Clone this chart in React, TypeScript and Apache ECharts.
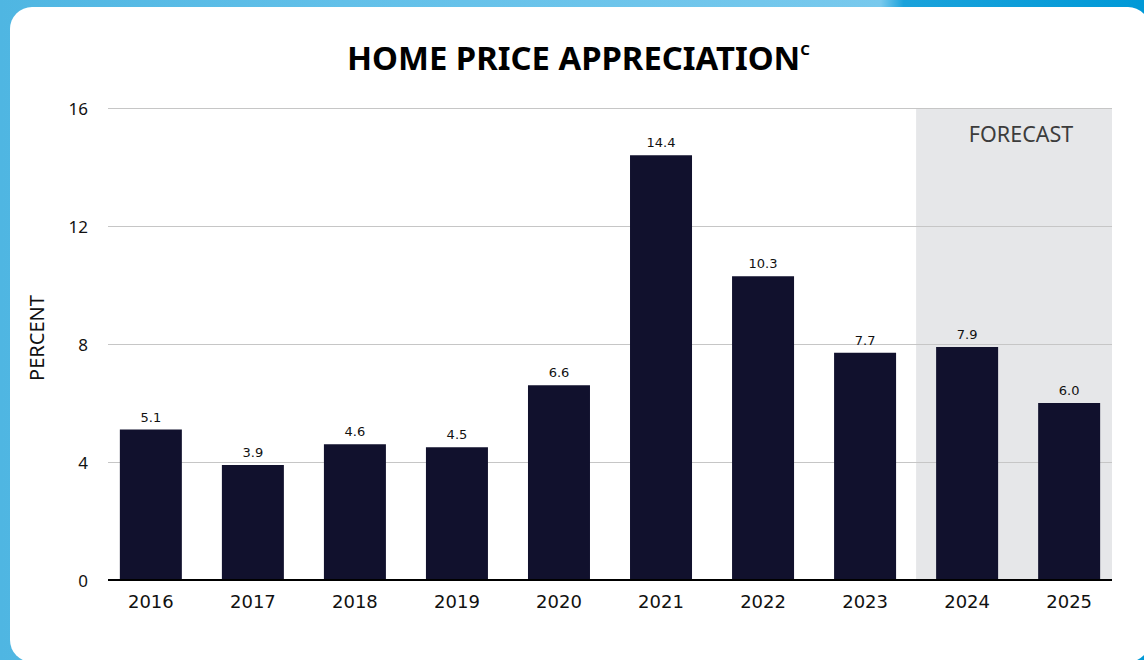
import React, { useEffect, useRef } from "react";
import * as echarts from "echarts";

const YEARS = ["2016", "2017", "2018", "2019", "2020", "2021", "2022", "2023", "2024", "2025"];
const APPRECIATION = [5.1, 3.9, 4.6, 4.5, 6.6, 14.4, 10.3, 7.7, 7.9, 6.0];
const Y_TICKS = [0, 4, 8, 12, 16];
const FORECAST_FIRST_INDEX = 8; // 2024 onward is forecast
const X_MIN = -0.42;
const X_MAX = 9.42;
const Y_MAX = 16;

export default function App() {
  const ref = useRef<HTMLDivElement>(null);

  useEffect(() => {
    if (!ref.current) return;
    const chart = echarts.init(ref.current, null, { renderer: "svg" });
    const idx = YEARS.map((_, i) => i);
    chart.setOption({
      animation: false,
      backgroundColor: "transparent",
      title: {
        text: "HOME PRICE APPRECIATION{sup|C}",
        left: 342,
        top: 36,
        textStyle: {
          fontFamily: "Noto Sans",
          fontWeight: "bold",
          fontSize: 32.8,
          color: "#000",
          rich: {
            sup: {
              fontFamily: "Noto Sans",
              fontWeight: "bold",
              fontSize: 15,
              color: "#000",
              verticalAlign: "top",
              padding: [0, 0, 15, 0],
            },
          },
        },
      },
      graphic: [
        {
          type: "text",
          x: 36,
          y: 338,
          rotation: Math.PI / 2,
          style: {
            text: "PERCENT",
            fontFamily: "Noto Sans",
            fontSize: 20,
            fill: "#111",
            align: "center",
            verticalAlign: "middle",
          },
        },
      ],
      grid: { left: 108, right: 32, top: 108, bottom: 80 },
      xAxis: {
        type: "value",
        min: X_MIN,
        max: X_MAX,
        splitLine: { show: false },
        axisTick: { show: false },
        axisLine: { show: false },
        axisLabel: {
          customValues: idx,
          formatter: (v: number) => YEARS[Math.round(v)] ?? "",
          fontFamily: "DejaVu Sans",
          fontSize: 18,
          color: "#111",
          margin: 12,
        },
      },
      yAxis: {
        type: "value",
        min: 0,
        max: Y_MAX,
        interval: 4,
        axisLine: { show: false },
        axisTick: { show: false },
        axisLabel: {
          fontFamily: "Noto Sans",
          fontSize: 17,
          color: "#111",
          margin: 20,
          formatter: (v: number) => (Y_TICKS.includes(v) ? String(v) : ""),
        },
        splitLine: { show: false },
      },
      series: [
        {
          type: "custom",
          z: 1,
          silent: true,
          encode: { x: [0, 1] },
          data: [[FORECAST_FIRST_INDEX - 0.5, X_MAX]],
          renderItem: (params: any, api: any) => {
            const tl = api.coord([api.value(0), Y_MAX]);
            const br = api.coord([api.value(1), 0]);
            return {
              type: "group",
              children: [
                {
                  type: "rect",
                  shape: { x: tl[0], y: tl[1], width: br[0] - tl[0], height: br[1] - tl[1] },
                  style: { fill: "#e6e7e9" },
                },
                {
                  type: "text",
                  x: (tl[0] + br[0]) / 2 + 7,
                  y: tl[1] + 14,
                  style: {
                    text: "FORECAST",
                    fontFamily: "Noto Sans",
                    fontSize: 21.5,
                    fill: "#3c3c3c",
                    align: "center",
                    verticalAlign: "top",
                  },
                },
              ],
            };
          },
        },
        {
          type: "custom",
          z: 2,
          silent: true,
          encode: { y: 0 },
          data: Y_TICKS.filter((v) => v !== 0).map((v) => [v]),
          renderItem: (params: any, api: any) => {
            const v = api.value(0);
            const a = api.coord([X_MIN, v]);
            const b = api.coord([X_MAX, v]);
            const y = Math.round(a[1]) + 0.5;
            return {
              type: "line",
              shape: { x1: a[0], y1: y, x2: b[0], y2: y },
              style: { stroke: "#c6c6c6", lineWidth: 1 },
            };
          },
        },
        {
          type: "bar",
          data: APPRECIATION.map((v, i) => [i, v]),
          barWidth: 62,
          z: 3,
          itemStyle: { color: "#11112d" },
          label: {
            show: true,
            position: "top",
            distance: 6,
            fontFamily: "DejaVu Sans",
            fontSize: 13,
            color: "#111",
            formatter: (p: any) => Number(p.value[1]).toFixed(1),
          },
        },
        {
          type: "custom",
          z: 4,
          silent: true,
          encode: { y: 0 },
          data: [[0]],
          renderItem: (params: any, api: any) => {
            const a = api.coord([X_MIN, api.value(0)]);
            const b = api.coord([X_MAX, api.value(0)]);
            return {
              type: "line",
              shape: { x1: a[0], y1: a[1], x2: b[0], y2: b[1] },
              style: { stroke: "#000", lineWidth: 2 },
            };
          },
        },
      ],
    });
    return () => chart.dispose();
  }, []);

  return (
    <div
      style={{
        position: "fixed",
        left: 0,
        top: 0,
        width: 1144,
        height: 660,
        overflow: "hidden",
        background:
          "linear-gradient(to right, #4fb6e2 0%, #62c0e9 30%, #78c9ed 77%, #1aa2db 79%, #0099d7 100%)",
      }}
    >
      <div
        style={{
          position: "absolute",
          left: 10,
          top: 7,
          width: 1140,
          height: 655,
          borderRadius: 22,
          background: "#fff",
        }}
      />
      <div ref={ref} style={{ position: "absolute", left: 0, top: 0, width: 1144, height: 660 }} />
    </div>
  );
}
